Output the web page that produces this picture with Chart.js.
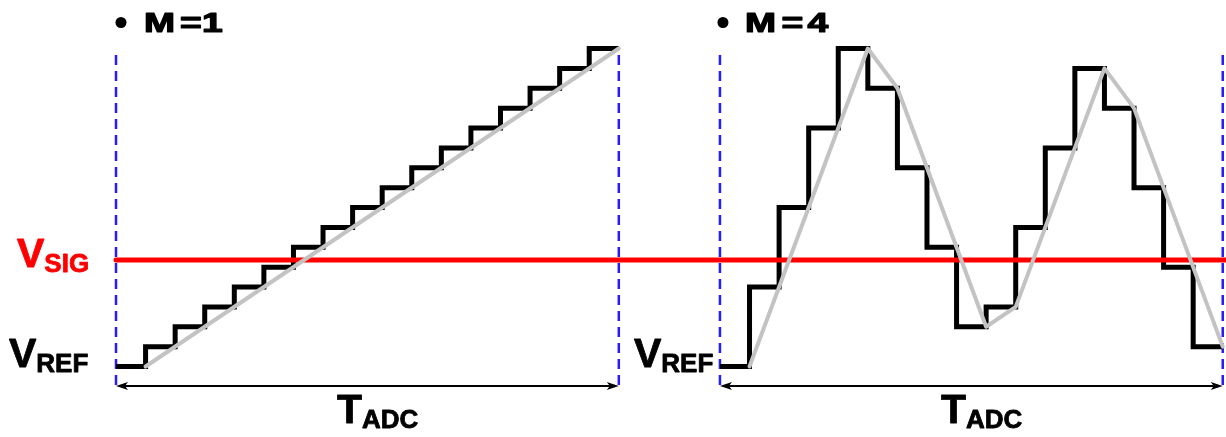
<!DOCTYPE html>
<html>
<head>
<meta charset="utf-8">
<script src="https://cdn.jsdelivr.net/npm/chart.js@4.4.1/dist/chart.umd.min.js"></script>
<style>
  html, body { margin: 0; padding: 0; background: #ffffff; }
  canvas { display: block; }
</style>
</head>
<body>
<canvas id="adc" width="1226" height="437"></canvas>
<script>
// Sample index along one conversion window (17 intervals per window)
const sampleIndex = [0, 1, 2, 3, 4, 5, 6, 7, 8, 9, 10, 11, 12, 13, 14, 15, 16, 17];

// Quantised DAC levels, M = 1 (single-step ramp)
const rampLevels = [0, 1, 2, 3, 4, 5, 6, 7, 8, 9, 10, 11, 12, 13, 14, 15, 16, 16];
// Quantised DAC levels, M = 4 (four-step tracking)
const multiLevels = [0, 4, 8, 12, 16, 14, 10, 6, 2, 3, 7, 11, 15, 13, 9, 5, 1, 1];

// Reconstructed trace through the sampled corners
const rampTraceX = [1, 17];
const rampTraceY = [0, 16];
const multiTraceX = [1, 5, 6, 9, 10, 13, 14, 17];
const multiTraceY = [0, 16, 14, 2, 3, 15, 13, 1];

// Signal level and window extents
const vSig = 5.36;
const windowLen = 17;
const markerTop = 15.77;
const markerBottom = -0.93;
const arrowLevel = -0.98;

// Horizontal placement of the two windows on the shared x scale
const xMax = 37.53;
const rightWindowStart = 20.42;

const toPts = (xs, ys, shift) => xs.map((x, i) => ({ x: x + shift, y: ys[i] }));

const blue = 'rgb(40,28,255)';
const dashed = (x0) => ({
  data: [{ x: x0, y: markerBottom }, { x: x0, y: markerTop }],
  borderColor: blue, borderWidth: 2.5, borderDash: [10, 6], order: 4
});

const datasets = [
  // grey reconstructed traces (on top)
  { data: toPts(rampTraceX, rampTraceY, 0), borderColor: '#c3c3c3', borderWidth: 4, borderCapStyle: 'round', borderJoinStyle: 'round', order: 1 },
  { data: toPts(multiTraceX, multiTraceY, rightWindowStart), borderColor: '#c3c3c3', borderWidth: 4, borderCapStyle: 'round', borderJoinStyle: 'round', order: 1 },
  // signal level
  { data: [{ x: 0, y: vSig }, { x: xMax, y: vSig }], borderColor: '#ff0000', borderWidth: 5, borderCapStyle: 'round', order: 2 },
  // DAC staircases
  { data: toPts(sampleIndex, rampLevels, 0), stepped: true, borderColor: '#000000', borderWidth: 5, borderJoinStyle: 'miter', order: 3 },
  { data: toPts(sampleIndex, multiLevels, rightWindowStart), stepped: true, borderColor: '#000000', borderWidth: 5, borderJoinStyle: 'miter', order: 3 },
  // window boundaries
  dashed(0), dashed(windowLen), dashed(rightWindowStart), dashed(rightWindowStart + windowLen)
].map(d => Object.assign({ clip: false, pointRadius: 0, tension: 0, fill: false }, d));

const FONT = '"Liberation Sans", Arial, sans-serif';

function subLabel(ctx, main, sub, x, base, color) {
  ctx.fillStyle = color;
  ctx.strokeStyle = color;
  ctx.lineWidth = 0.8;
  ctx.lineJoin = 'round';
  ctx.textAlign = 'left';
  ctx.textBaseline = 'alphabetic';
  ctx.font = 'bold 41px ' + FONT;
  ctx.fillText(main, x, base);
  ctx.strokeText(main, x, base);
  const w = ctx.measureText(main).width;
  ctx.font = 'bold 26px ' + FONT;
  ctx.fillText(sub, x + w, base + 5);
  ctx.strokeText(sub, x + w, base + 5);
}

function bulletLabel(ctx, x, base, glyphs) {
  ctx.fillStyle = '#000000';
  ctx.strokeStyle = '#000000';
  ctx.beginPath();
  ctx.arc(x, base - 9.5, 5.5, 0, Math.PI * 2);
  ctx.fill();
  ctx.font = 'bold 27px ' + FONT;
  ctx.textAlign = 'left';
  ctx.textBaseline = 'alphabetic';
  glyphs.forEach(([g, dx]) => {
    ctx.save();
    ctx.translate(x + dx, base);
    ctx.scale(1.38, 1);
    ctx.lineWidth = 1.2;
    ctx.lineJoin = 'round';
    ctx.fillText(g, 0, 0);
    ctx.strokeText(g, 0, 0);
    ctx.restore();
  });
}

function arrow(ctx, x0, x1, y) {
  ctx.save();
  ctx.strokeStyle = '#000000';
  ctx.fillStyle = '#000000';
  ctx.lineWidth = 2;
  ctx.beginPath();
  ctx.moveTo(x0 + 4, y);
  ctx.lineTo(x1 - 4, y);
  ctx.stroke();
  [[x0, 1], [x1, -1]].forEach(([tx, s]) => {
    ctx.beginPath();
    ctx.moveTo(tx, y);
    ctx.lineTo(tx + s * 12, y - 4);
    ctx.lineTo(tx + s * 9, y);
    ctx.lineTo(tx + s * 12, y + 4);
    ctx.closePath();
    ctx.fill();
  });
  ctx.restore();
}

const annotations = {
  id: 'annotations',
  afterDraw(chart) {
    const { ctx, scales: { x, y } } = chart;
    const lA = x.getPixelForValue(0), lB = x.getPixelForValue(windowLen);
    const rA = x.getPixelForValue(rightWindowStart), rB = x.getPixelForValue(rightWindowStart + windowLen);
    const ay = y.getPixelForValue(arrowLevel);
    arrow(ctx, lA, lB, ay);
    arrow(ctx, rA, rB, ay);

    const base0 = y.getPixelForValue(0);
    const baseSig = y.getPixelForValue(vSig) + 7;
    subLabel(ctx, 'V', 'SIG', 17, baseSig, '#ff0000');
    subLabel(ctx, 'V', 'REF', 9, base0, '#000000');
    subLabel(ctx, 'V', 'REF', 634, base0, '#000000');
    subLabel(ctx, 'T', 'ADC', lA + 221, ay + 37, '#000000');
    subLabel(ctx, 'T', 'ADC', rA + 221, ay + 37, '#000000');

    bulletLabel(ctx, lA + 5, 32, [['M', 23], ['=', 59], ['1', 81]]);
    bulletLabel(ctx, rA + 3, 32, [['M', 22], ['=', 58.5], ['4', 84.5]]);
  }
};

new Chart(document.getElementById('adc'), {
  type: 'line',
  data: { datasets },
  options: {
    responsive: false,
    animation: false,
    events: [],
    layout: { padding: { left: 116, right: 0, top: 48.5, bottom: 50.6 } },
    scales: {
      x: { type: 'linear', min: 0, max: xMax, display: false },
      y: { type: 'linear', min: -1, max: 16, display: false }
    },
    plugins: { legend: { display: false }, tooltip: { enabled: false } }
  },
  plugins: [annotations]
});
</script>
</body>
</html>
